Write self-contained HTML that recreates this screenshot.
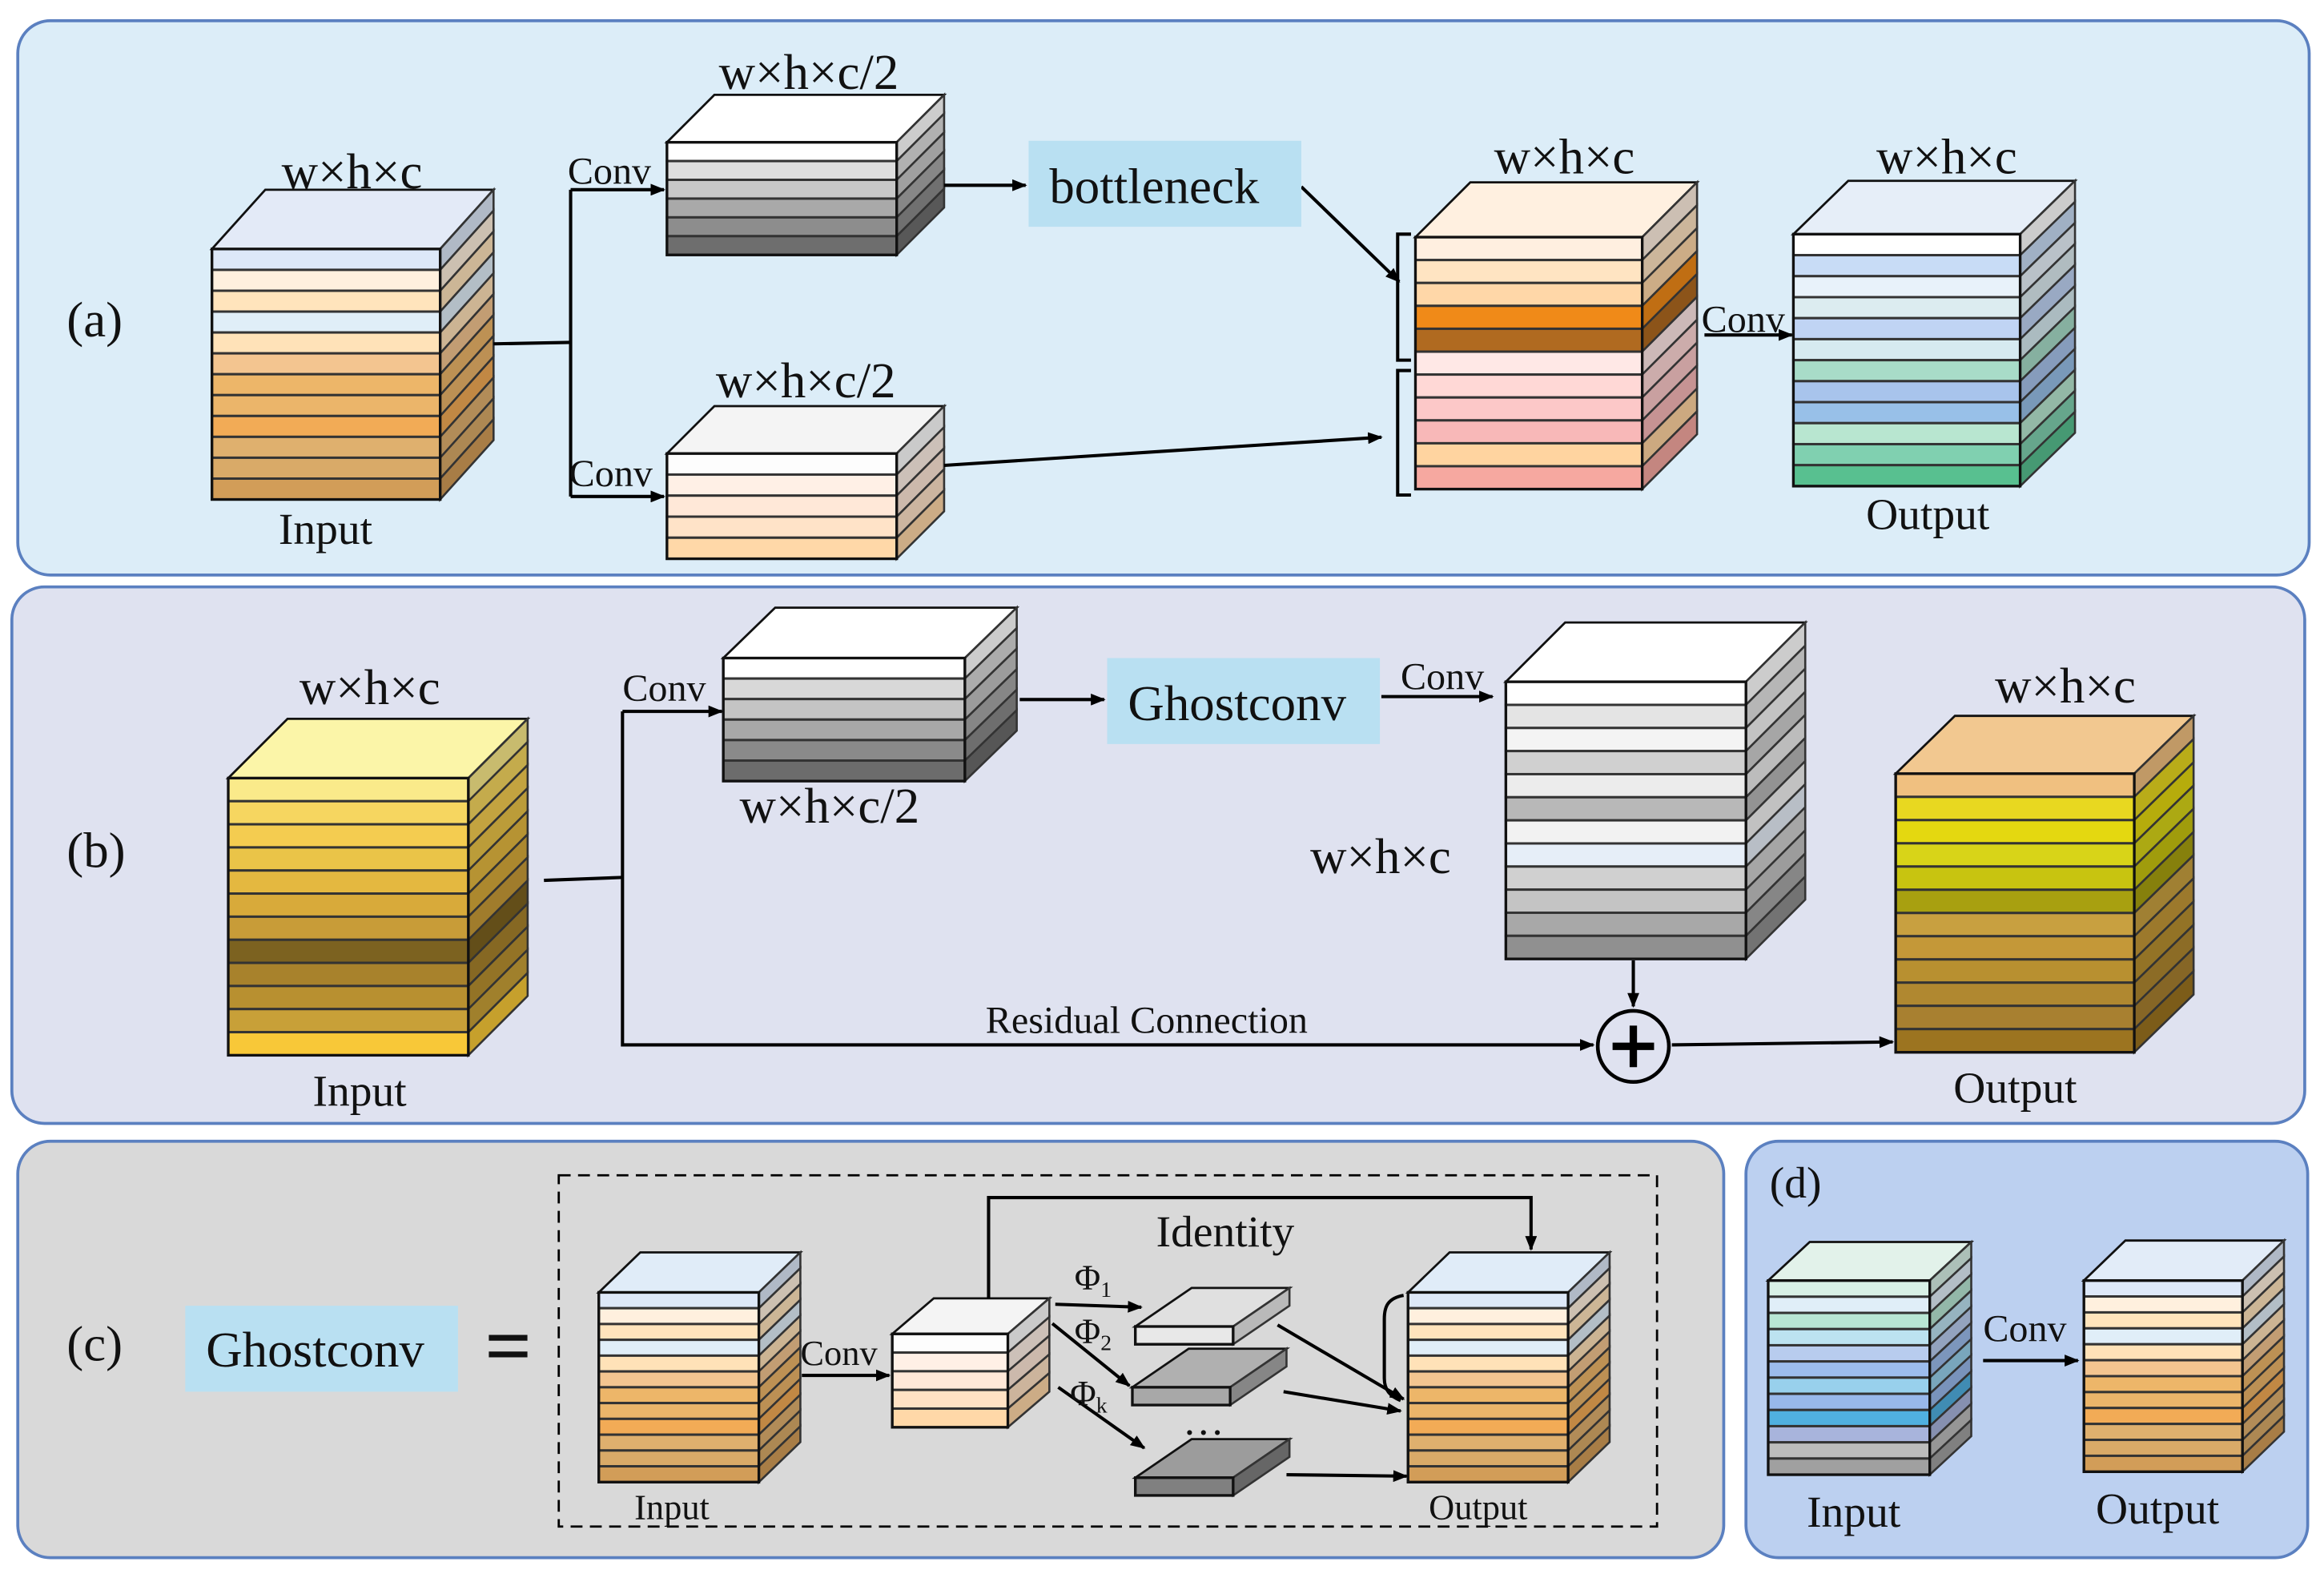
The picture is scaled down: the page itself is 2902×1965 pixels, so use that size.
<!DOCTYPE html>
<html><head><meta charset="utf-8">
<style>
html,body{margin:0;padding:0;background:#fff}
svg{display:block}
text{font-family:"Liberation Serif",serif;fill:#111}
</style></head>
<body>
<svg id="s" width="2902" height="1965" viewBox="0 0 1568 1062" preserveAspectRatio="none" xmlns="http://www.w3.org/2000/svg">
<defs>
<marker id="ar" markerWidth="10" markerHeight="8" refX="9" refY="4" orient="auto" markerUnits="userSpaceOnUse"><path d="M0,0 L10,4 L0,8 Z" fill="#000"/></marker>
</defs>
<rect x="12" y="14" width="1546" height="374" rx="22" fill="#dcedf8" stroke="#5b80c0" stroke-width="2"/>
<rect x="8" y="396" width="1547" height="362" rx="22" fill="#dfe2f0" stroke="#5b80c0" stroke-width="2"/>
<rect x="12" y="770" width="1151" height="281" rx="22" fill="#d9d9d9" stroke="#5b80c0" stroke-width="2"/>
<rect x="1178" y="770" width="379" height="281" rx="22" fill="#bcd0f0" stroke="#5b80c0" stroke-width="2"/>
<rect x="377" y="793" width="741" height="237" fill="none" stroke="#000" stroke-width="1.5" stroke-dasharray="8,5"/>
<g id="cubes"></g>
<g fill="none" stroke="#000" stroke-width="2.2">
<path d="M333,232 L385,231"/>
<path d="M385,128 L385,335"/>
<path d="M385,128 L448,128" marker-end="url(#ar)"/>
<path d="M385,335 L448,335" marker-end="url(#ar)"/>
<path d="M637,125 L692,125" marker-end="url(#ar)"/>
<path d="M878,126 L944,190" marker-end="url(#ar)"/>
<path d="M637,314 L932,295" marker-end="url(#ar)"/>
<path d="M952,158 L943,158 L943,243 L952,243"/>
<path d="M952,250 L943,250 L943,334 L952,334"/>
<path d="M1150,226 L1209,226" marker-end="url(#ar)"/>
<path d="M367,594 L420,592"/>
<path d="M420,480 L420,705 L1075,705" marker-end="url(#ar)"/>
<path d="M420,480 L487,480" marker-end="url(#ar)"/>
<path d="M688,472 L745,472" marker-end="url(#ar)"/>
<path d="M932,470 L1007,470" marker-end="url(#ar)"/>
<path d="M1102,648 L1102,679" marker-end="url(#ar)"/>
<circle cx="1102" cy="706" r="24" stroke-width="2.5"/>
<path d="M1128,705 L1277,703" marker-end="url(#ar)"/>
<path d="M541,928 L600,928" marker-end="url(#ar)"/>
<path d="M667,876 L667,808 L1033,808 L1033,843" marker-end="url(#ar)"/>
<path d="M712,880 L770,882" marker-end="url(#ar)"/>
<path d="M710,893 L762,935" marker-end="url(#ar)"/>
<path d="M714,936 L772,977" marker-end="url(#ar)"/>
<path d="M862,894 L947,944" marker-end="url(#ar)"/>
<path d="M866,939 L945,952" marker-end="url(#ar)"/>
<path d="M868,995 L949,996" marker-end="url(#ar)"/>
<path d="M947,874 C936,876 934,882 934,890 L934,930 C934,938 938,942 945,945"/>
<path d="M1338,918 L1402,918" marker-end="url(#ar)"/>
</g>
<path d="M1102,692 L1102,720 M1088,706 L1116,706" stroke="#000" stroke-width="5"/>
<rect x="694" y="95" width="184" height="58" fill="#b9e0f2"/>
<rect x="747" y="444" width="184" height="58" fill="#b9e0f2"/>
<rect x="125" y="881" width="184" height="58" fill="#b9e0f2"/>
<g font-size="34">
<text x="708" y="137">bottleneck</text>
<text x="761" y="486">Ghostconv</text>
<text x="139" y="922">Ghostconv</text>
<text x="45" y="227">(a)</text>
<text x="45" y="585">(b)</text>
<text x="45" y="918">(c)</text>
<text x="190" y="127">w×h×c</text>
<text x="485" y="60">w×h×c/2</text>
<text x="483" y="268">w×h×c/2</text>
<text x="1008" y="117">w×h×c</text>
<text x="1266" y="117">w×h×c</text>
<text x="202" y="475">w×h×c</text>
<text x="499" y="555">w×h×c/2</text>
<text x="884" y="589">w×h×c</text>
<text x="1346" y="474">w×h×c</text>
</g>
<g font-size="30">
<text x="188" y="367">Input</text>
<text x="1259" y="357">Output</text>
<text x="211" y="746">Input</text>
<text x="1318" y="744">Output</text>
<text x="1219" y="1030">Input</text>
<text x="1414" y="1028">Output</text>
<text x="780" y="841">Identity</text>
<text x="1194" y="808">(d)</text>
</g>
<g font-size="26">
<text x="383" y="124">Conv</text>
<text x="384" y="328">Conv</text>
<text x="1148" y="224">Conv</text>
<text x="420" y="473">Conv</text>
<text x="945" y="465">Conv</text>
<text x="665" y="697">Residual Connection</text>
<text x="1338" y="905">Conv</text>
</g>
<g font-size="24">
<text x="540" y="921">Conv</text>
<text x="428" y="1025">Input</text>
<text x="964" y="1025">Output</text>
<text x="725" y="870">Φ<tspan font-size="15" dy="5">1</tspan></text>
<text x="725" y="906">Φ<tspan font-size="15" dy="5">2</tspan></text>
<text x="722" y="948">Φ<tspan font-size="15" dy="5">k</tspan></text>
<text x="798" y="968" font-size="28">…</text>
</g>
<text x="327" y="927" font-size="56" font-family="Liberation Sans,sans-serif" font-weight="bold">=</text>
</svg>
<script>
var g=document.getElementById('cubes'),NS='http://www.w3.org/2000/svg';
function el(t,a){var e=document.createElementNS(NS,t);for(var k in a)e.setAttribute(k,a[k]);g.appendChild(e);return e;}
function dk(c,f){var n=parseInt(c.slice(1),16),r=(n>>16)*f|0,gg=((n>>8)&255)*f|0,b=(n&255)*f|0;return 'rgb('+r+','+gg+','+b+')';}
function cube(x,y,w,h,dx,dy,top,cols){
 var n=cols.length,sh=h/n;
 el('polygon',{points:[x,y,x+dx,y-dy,x+w+dx,y-dy,x+w,y].join(','),fill:top,stroke:'#111','stroke-width':1.5});
 for(var i=0;i<n;i++){
  var yy=y+i*sh;
  el('rect',{x:x,y:yy,width:w,height:sh,fill:cols[i],stroke:'#333','stroke-width':1.6});
  el('polygon',{points:[x+w,yy,x+w+dx,yy-dy,x+w+dx,yy-dy+sh,x+w,yy+sh].join(','),fill:dk(cols[i],0.8),stroke:'#333','stroke-width':1.4});
 }
 el('rect',{x:x,y:y,width:w,height:h,fill:'none',stroke:'#111','stroke-width':1.8});
}
var warm=['#dde8f8','#fff0de','#ffe4bc','#e0eef8','#ffe2b8','#f3c590','#edb669','#ebb56a','#f2ab56','#dfb06e','#d9aa68','#d29d58'];
cube(143,168,154,169,36,40,'#e3eaf7',warm);
cube(450,96,155,76,32,32,'#ffffff',['#ffffff','#dedede','#c8c8c8','#a9a9a9','#8d8d8d','#6e6e6e']);
cube(450,306,155,71,32,32,'#f4f4f4',['#fdfdfd','#fff0e6','#ffe8d8','#ffe3c8','#ffd8a8']);
cube(955,160,153,170,37,37,'#fff0e0',['#ffefe0','#ffe4c2','#ffd7a8','#f08a18','#b06a20','#ffe8e6','#ffd8d6','#fcc8c8','#f8b8b8','#ffd4a0','#f6a8a0']);
cube(1210,158,153,170,37,36,'#e6eef8',['#ffffff','#c8dcf6','#e8f2fa','#dcecf0','#c0d4f4','#d6eaf0','#a8dcc8','#a8c4ec','#98c0e8','#b8e6d0','#80d0b0','#58c090']);
cube(154,525,162,187,40,40,'#fbf5a8',['#faea8a','#f6d660','#f4cc50','#eac448','#e4b840','#d8aa3a','#c89c38','#7c6220','#a8822c','#b89030','#c8a038','#f8c838']);
cube(488,444,163,83,35,34,'#ffffff',['#ffffff','#d8d8d8','#c4c4c4','#a8a8a8','#8a8a8a','#6c6c6c']);
cube(1016,460,162,187,40,40,'#ffffff',['#ffffff','#e4e4e4','#f4f4f4','#d0d0d0','#ececec','#b8b8b8','#f2f2f2','#e6eef8','#d0d0d0','#c4c4c4','#a8a8a8','#909090']);
cube(1279,522,161,188,40,39,'#f2c890',['#f0c080','#e8d820','#e4d810','#d8d418','#c8c410','#a8a010','#c8a040','#c49838','#b89030','#b08830','#a88030','#9c7420']);
cube(404,872,108,128,28,27,'#e0ecf8',warm);
cube(602,900,78,63,28,24,'#f4f4f4',['#fdfdfd','#fff0e6','#ffe8d8','#ffe2c4','#ffd8a8']);
cube(950,872,108,128,28,27,'#e0ecf8',warm);
cube(1193,864,109,131,28,26,'#e2f2ea',['#d8f0e6','#e0eef8','#b8e6d4','#bce2f0','#b8ccee','#9cbcec','#98d0ec','#98b8ea','#50b0e0','#a8b4dc','#bcbcbc','#a0a0a0']);
cube(1406,864,107,129,28,27,'#e2ecf8',warm);
cube(766,895,66,12,38,26,'#e0e0e0',['#e8e8e8']);
cube(764,936,66,12,38,26,'#b0b0b0',['#a8a8a8']);
cube(766,997,66,12,38,26,'#9c9c9c',['#808080']);
</script>
</body></html>
